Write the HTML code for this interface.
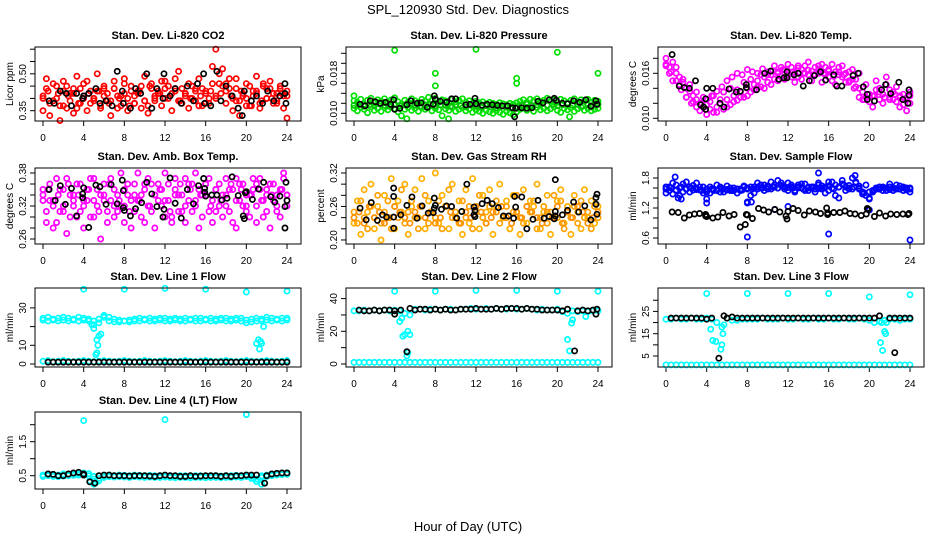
<!DOCTYPE html>
<html><head><meta charset="utf-8"><title>SPL_120930 Std. Dev. Diagnostics</title>
<style>
html,body{margin:0;padding:0;background:#fff;}
svg{display:block;font-family:"Liberation Sans",Arial,sans-serif;}
</style></head>
<body>
<svg id="chart" width="936" height="540" viewBox="0 0 936 540" xmlns="http://www.w3.org/2000/svg">
<rect x="0" y="0" width="936" height="540" fill="#fff"/>
<text x="468" y="14" text-anchor="middle" font-size="13">SPL_120930  Std. Dev. Diagnostics</text>
<text x="468" y="531" text-anchor="middle" font-size="13">Hour of Day (UTC)</text>
</svg>
<script>
// ---------- data ----------
const xTicks=[0,4,8,12,16,20,24];
const co2A=[0.41,0.44,0.38,0.46,0.40,0.37,0.43,0.45,0.39,0.42,0.36,0.44,0.41,0.47,0.38,0.40,0.43,0.37,0.45,0.42,0.39,0.44,0.36,0.41,0.46,0.40,0.43,0.38,0.42,0.45,0.39,0.37,0.44,0.41,0.43,0.47,0.40,0.45,0.42,0.48,0.39,0.44,0.41,0.46,0.40,0.43,0.37,0.44,0.42,0.38,0.46,0.41,0.50,0.45,0.43,0.48,0.40,0.44,0.39,0.42,0.37,0.45,0.41,0.43,0.38,0.46,0.40,0.44,0.42,0.39,0.45,0.41,0.43];
const co2B=[0.35,0.48,0.33,0.39,0.45,0.31,0.47,0.36,0.42,0.34,0.49,0.38,0.46,0.35,0.43,0.40,0.50,0.36,0.44,0.39,0.33,0.47,0.41,0.37,0.48,0.35,0.45,0.38,0.43,0.36,0.49,0.34,0.46,0.39,0.42,0.37,0.47,0.40,0.35,0.44,0.51,0.38,0.42,0.36,0.45,0.39,0.48,0.37,0.43,0.40,0.53,0.60,0.46,0.52,0.38,0.44,0.35,0.48,0.33,0.41,0.46,0.37,0.43,0.49,0.36,0.45,0.40,0.47,0.38,0.42,0.44,0.36,0.32];
const co2C=[0.40,0.43,0.39,0.42,0.37,0.41,0.44,0.38,0.40,0.42,0.39,0.43,0.41,0.38,0.44,0.40,0.42,0.37,0.41,0.43,0.39,0.45,0.40,0.42,0.44,0.41,0.43,0.39,0.42,0.40,0.44,0.41,0.38,0.43,0.40,0.42,0.46,0.41,0.39,0.43,0.40,0.37,0.42,0.39,0.44,0.40,0.38,0.42,0.41];
const co2BlkT=[0.6,1.1,1.7,2.3,2.8,3.3,3.9,4.0,4.5,5.2,5.6,6.2,6.8,7.3,7.8,7.9,8.6,9.1,9.6,10.2,10.7,11.2,11.8,11.9,12.5,13.0,13.6,14.2,14.8,15.2,15.8,15.9,16.5,17.1,17.5,18.0,18.6,19.2,19.6,19.8,20.5,21.0,21.6,22.1,22.7,23.3,23.8,23.9,23.8];
const co2BlkV=[0.39,0.38,0.43,0.42,0.37,0.42,0.40,0.41,0.42,0.44,0.38,0.39,0.37,0.51,0.43,0.38,0.36,0.44,0.42,0.50,0.36,0.44,0.40,0.50,0.41,0.44,0.38,0.45,0.39,0.46,0.50,0.38,0.37,0.51,0.39,0.45,0.41,0.36,0.33,0.43,0.39,0.41,0.38,0.43,0.39,0.41,0.42,0.38,0.46];

const prsA=[0.0125,0.0122,0.0128,0.0118,0.0126,0.0130,0.0121,0.0127,0.0124,0.0129,0.0120,0.0127,0.0131,0.0123,0.0118,0.0126,0.0122,0.0129,0.0125,0.0120,0.0128,0.0124,0.0132,0.0126,0.0130,0.0122,0.0127,0.0125,0.0121,0.0128,0.0123,0.0126,0.0129,0.0122,0.0125,0.0120,0.0124,0.0121,0.0123,0.0119,0.0122,0.0120,0.0118,0.0121,0.0119,0.0117,0.0120,0.0118,0.0121,0.0124,0.0127,0.0122,0.0128,0.0125,0.0129,0.0123,0.0126,0.0130,0.0124,0.0127,0.0122,0.0128,0.0125,0.0121,0.0126,0.0129,0.0123,0.0127,0.0124,0.0128,0.0122,0.0126,0.0124];
const prsB=[0.0110,0.0105,0.0112,0.0108,0.0101,0.0113,0.0106,0.0110,0.0104,0.0111,0.0107,0.0113,0.0109,0.0103,0.0095,0.0108,0.0112,0.0106,0.0110,0.0104,0.0111,0.0108,0.0113,0.0105,0.0110,0.0107,0.0095,0.0109,0.0106,0.0112,0.0104,0.0108,0.0111,0.0105,0.0109,0.0102,0.0107,0.0104,0.0100,0.0106,0.0103,0.0100,0.0105,0.0102,0.0098,0.0104,0.0101,0.0097,0.0103,0.0108,0.0111,0.0106,0.0110,0.0104,0.0112,0.0107,0.0110,0.0105,0.0109,0.0113,0.0106,0.0102,0.0110,0.0107,0.0111,0.0104,0.0109,0.0112,0.0106,0.0110,0.0105,0.0108,0.0110];
const prsC=[0.0116,0.0118,0.0114,0.0117,0.0115,0.0119,0.0116,0.0114,0.0118,0.0115,0.0117,0.0119,0.0116,0.0114,0.0117,0.0118,0.0115,0.0117,0.0116,0.0114,0.0117,0.0115,0.0113,0.0116,0.0114,0.0112,0.0115,0.0113,0.0111,0.0114,0.0112,0.0110,0.0113,0.0116,0.0118,0.0115,0.0117,0.0119,0.0116,0.0118,0.0115,0.0117,0.0119,0.0116,0.0118,0.0115,0.0117,0.0116,0.0118];
const prsOutT=[4,12,20,8,24,16,16,8,0,5.2,9.3,21.2];
const prsOutV=[0.0226,0.0228,0.0222,0.0180,0.0180,0.0170,0.0160,0.0155,0.0135,0.0089,0.0089,0.0093];
const prsBlkT=[0.6,1.1,1.6,2.1,2.6,3.1,3.6,3.9,4.0,4.5,5.2,5.6,6.2,6.6,7.2,7.8,7.9,8.0,8.5,9.1,9.6,10.0,11.0,11.4,11.9,12.0,12.6,13.1,13.6,14.1,14.6,15.1,15.6,15.8,15.9,16.5,17.0,17.5,18.1,18.6,19.2,19.7,19.9,20.5,21.0,21.6,22.2,22.8,23.3,23.8,23.9];
const prsBlkV=[0.0118,0.0115,0.0125,0.0123,0.0120,0.0122,0.0118,0.0127,0.0108,0.0110,0.0117,0.0125,0.0120,0.0121,0.0112,0.0118,0.0135,0.0128,0.0124,0.0122,0.0129,0.0129,0.0117,0.0118,0.0130,0.0119,0.0116,0.0118,0.0117,0.0116,0.0115,0.0115,0.0111,0.0093,0.0110,0.0111,0.0110,0.0111,0.0124,0.0121,0.0127,0.0130,0.0126,0.0120,0.0119,0.0125,0.0122,0.0127,0.0114,0.0125,0.0118];

const ltA=[0.0172,0.0168,0.0175,0.0160,0.0155,0.0148,0.0140,0.0136,0.0130,0.0125,0.0120,0.0115,0.0118,0.0112,0.0108,0.0115,0.0120,0.0112,0.0125,0.0118,0.0130,0.0124,0.0135,0.0128,0.0140,0.0135,0.0145,0.0150,0.0142,0.0155,0.0148,0.0158,0.0152,0.0162,0.0156,0.0165,0.0158,0.0168,0.0160,0.0155,0.0165,0.0170,0.0158,0.0163,0.0168,0.0160,0.0172,0.0158,0.0165,0.0150,0.0162,0.0168,0.0155,0.0160,0.0148,0.0165,0.0152,0.0140,0.0135,0.0128,0.0122,0.0130,0.0138,0.0125,0.0132,0.0145,0.0128,0.0135,0.0122,0.0130,0.0118,0.0125,0.0120];
const ltB=[0.0180,0.0160,0.0150,0.0168,0.0145,0.0152,0.0128,0.0145,0.0122,0.0135,0.0110,0.0128,0.0105,0.0122,0.0130,0.0108,0.0125,0.0135,0.0115,0.0140,0.0122,0.0138,0.0128,0.0148,0.0130,0.0152,0.0138,0.0142,0.0158,0.0140,0.0162,0.0145,0.0170,0.0150,0.0168,0.0152,0.0172,0.0155,0.0148,0.0170,0.0152,0.0160,0.0175,0.0150,0.0158,0.0170,0.0148,0.0168,0.0155,0.0172,0.0145,0.0158,0.0170,0.0148,0.0162,0.0152,0.0142,0.0160,0.0125,0.0145,0.0132,0.0115,0.0150,0.0140,0.0120,0.0155,0.0138,0.0125,0.0142,0.0115,0.0132,0.0110,0.0135];
const ltC=[0.0170,0.0162,0.0150,0.0138,0.0128,0.0120,0.0115,0.0120,0.0125,0.0130,0.0136,0.0142,0.0150,0.0155,0.0160,0.0158,0.0165,0.0162,0.0160,0.0166,0.0158,0.0163,0.0160,0.0165,0.0158,0.0162,0.0167,0.0160,0.0164,0.0158,0.0165,0.0160,0.0163,0.0156,0.0162,0.0158,0.0150,0.0140,0.0128,0.0125,0.0132,0.0130,0.0135,0.0128,0.0125,0.0132,0.0128,0.0126,0.0130];
const ltBlkT=[0.6,1.3,1.8,2.3,2.9,3.4,3.7,3.9,3.9,4.0,4.6,5.3,5.7,6.2,6.9,7.3,7.9,7.9,8.9,9.7,10.3,11.1,11.6,11.9,11.9,12.6,13.0,13.5,14.1,14.6,15.2,15.7,16.5,16.8,17.3,18.4,18.9,19.4,19.8,19.8,20.5,21.2,21.6,22.1,22.9,23.3,23.8,23.9,23.9];
const ltBlkV=[0.0185,0.0143,0.0141,0.0140,0.0150,0.0118,0.0115,0.0112,0.0126,0.0140,0.0140,0.0120,0.0115,0.0139,0.0135,0.0136,0.0145,0.0141,0.0138,0.0160,0.0163,0.0152,0.0154,0.0162,0.0154,0.0158,0.0160,0.0143,0.0150,0.0157,0.0162,0.0151,0.0158,0.0143,0.0143,0.0157,0.0160,0.0142,0.0132,0.0125,0.0123,0.0138,0.0145,0.0133,0.0148,0.0125,0.0120,0.0131,0.0138];

const ambA=[0.34,0.31,0.36,0.33,0.29,0.35,0.32,0.37,0.30,0.34,0.36,0.31,0.33,0.35,0.30,0.37,0.32,0.34,0.36,0.29,0.33,0.35,0.31,0.38,0.32,0.34,0.28,0.36,0.33,0.30,0.35,0.37,0.31,0.34,0.36,0.32,0.38,0.33,0.30,0.35,0.34,0.31,0.37,0.33,0.36,0.32,0.35,0.30,0.34,0.37,0.33,0.31,0.36,0.34,0.32,0.35,0.29,0.37,0.33,0.36,0.31,0.34,0.35,0.32,0.37,0.30,0.34,0.36,0.33,0.31,0.35,0.37,0.34];
const ambB=[0.35,0.29,0.33,0.28,0.37,0.31,0.35,0.27,0.34,0.32,0.30,0.36,0.28,0.33,0.37,0.30,0.35,0.26,0.33,0.31,0.37,0.30,0.34,0.32,0.29,0.36,0.33,0.31,0.38,0.34,0.29,0.32,0.36,0.28,0.33,0.35,0.30,0.36,0.29,0.37,0.31,0.34,0.29,0.36,0.31,0.38,0.28,0.34,0.36,0.31,0.29,0.35,0.32,0.30,0.37,0.31,0.35,0.28,0.36,0.32,0.34,0.30,0.37,0.29,0.35,0.33,0.31,0.28,0.36,0.34,0.30,0.38,0.32];
const ambC=[0.33,0.35,0.32,0.34,0.31,0.36,0.33,0.34,0.32,0.35,0.33,0.31,0.34,0.36,0.32,0.33,0.35,0.31,0.34,0.33,0.36,0.32,0.34,0.35,0.33,0.31,0.34,0.36,0.32,0.35,0.33,0.34,0.36,0.32,0.35,0.33,0.34,0.36,0.33,0.35,0.32,0.34,0.36,0.33,0.35,0.34,0.32,0.35,0.34];
const ambBlkT=[0.6,1.2,1.7,2.2,2.8,3.3,3.9,3.9,4.0,4.5,5.2,5.6,6.2,6.7,7.3,7.8,7.9,7.9,8.0,8.6,9.1,9.7,10.2,10.7,11.2,11.8,11.9,12.5,13.0,13.6,14.2,14.8,15.3,15.8,15.9,15.9,16.0,16.6,17.1,17.6,18.1,18.6,19.2,19.7,19.8,19.9,20.0,20.6,21.2,21.7,22.4,22.8,23.3,23.8,23.8,23.9,24.0];
const ambBlkV=[0.350,0.330,0.357,0.323,0.352,0.302,0.335,0.342,0.353,0.281,0.358,0.355,0.323,0.359,0.324,0.367,0.348,0.317,0.312,0.302,0.315,0.326,0.363,0.342,0.319,0.300,0.314,0.371,0.325,0.298,0.350,0.324,0.357,0.370,0.352,0.345,0.338,0.340,0.340,0.331,0.334,0.373,0.339,0.302,0.297,0.344,0.346,0.332,0.351,0.363,0.337,0.327,0.338,0.280,0.319,0.363,0.330];

const rhA=[0.25,0.23,0.27,0.24,0.22,0.26,0.24,0.28,0.23,0.25,0.27,0.22,0.26,0.24,0.29,0.23,0.25,0.27,0.24,0.22,0.26,0.28,0.23,0.25,0.24,0.27,0.22,0.26,0.29,0.24,0.25,0.23,0.27,0.24,0.26,0.22,0.25,0.28,0.24,0.23,0.26,0.25,0.27,0.23,0.24,0.26,0.22,0.25,0.28,0.24,0.23,0.26,0.25,0.27,0.22,0.24,0.26,0.23,0.25,0.28,0.24,0.27,0.22,0.25,0.24,0.26,0.23,0.27,0.24,0.25,0.22,0.26,0.24];
const rhB=[0.23,0.27,0.21,0.29,0.25,0.30,0.22,0.26,0.20,0.28,0.24,0.31,0.22,0.27,0.25,0.30,0.21,0.26,0.29,0.24,0.31,0.22,0.27,0.25,0.32,0.23,0.28,0.26,0.22,0.30,0.24,0.27,0.21,0.29,0.23,0.31,0.26,0.22,0.28,0.25,0.29,0.21,0.26,0.30,0.24,0.27,0.22,0.28,0.25,0.21,0.29,0.23,0.27,0.26,0.30,0.22,0.25,0.28,0.21,0.24,0.27,0.29,0.23,0.26,0.21,0.28,0.25,0.22,0.29,0.24,0.27,0.23,0.26];
const rhC=[0.24,0.25,0.23,0.26,0.24,0.25,0.23,0.24,0.26,0.25,0.24,0.23,0.25,0.26,0.24,0.25,0.23,0.24,0.26,0.25,0.24,0.23,0.25,0.24,0.26,0.25,0.23,0.24,0.25,0.26,0.24,0.23,0.25,0.24,0.26,0.25,0.24,0.23,0.25,0.24,0.26,0.23,0.25,0.24,0.26,0.25,0.23,0.24,0.25];
const rhBlkT=[0.6,1.2,1.7,2.3,2.8,3.2,3.9,3.9,3.9,3.9,4.6,5.2,5.7,6.2,6.7,7.3,7.8,7.9,7.9,8.0,8.6,9.1,9.6,10.1,10.6,11.1,11.8,11.8,11.9,11.9,12.6,13.1,13.6,14.2,14.7,15.2,15.7,15.8,15.9,16.5,17.0,17.6,18.1,18.7,19.2,19.7,19.8,19.8,19.8,20.5,21.0,21.6,22.1,22.7,23.3,23.8,23.8,23.9,23.9];
const rhBlkV=[0.257,0.236,0.267,0.235,0.245,0.241,0.293,0.278,0.241,0.221,0.245,0.262,0.277,0.239,0.261,0.248,0.249,0.257,0.275,0.262,0.255,0.261,0.260,0.239,0.251,0.300,0.259,0.245,0.242,0.253,0.265,0.271,0.265,0.258,0.243,0.243,0.239,0.278,0.259,0.277,0.220,0.237,0.271,0.239,0.242,0.238,0.243,0.251,0.308,0.245,0.253,0.268,0.250,0.261,0.236,0.264,0.276,0.282,0.246];

const sfA=[1.50,1.62,1.70,1.55,1.45,1.68,1.58,1.52,1.65,1.60,1.56,1.62,1.30,1.50,1.58,1.55,1.62,1.52,1.56,1.60,1.55,1.50,1.58,1.62,1.30,1.45,1.62,1.70,1.60,1.66,1.58,1.72,1.62,1.75,1.65,1.58,1.70,1.62,1.55,1.66,1.60,1.68,1.55,1.62,1.58,1.70,1.64,1.50,1.72,1.60,1.66,1.40,1.75,1.62,1.58,1.80,1.70,1.64,1.52,1.45,1.40,1.55,1.60,1.58,1.62,1.55,1.68,1.60,1.58,1.64,1.55,1.60,1.52];
const sfB=[1.62,1.55,1.48,1.66,1.60,1.52,1.72,1.62,1.56,1.70,1.62,1.50,1.58,1.62,1.55,1.66,1.52,1.58,1.64,1.55,1.60,1.58,1.55,1.64,1.58,1.62,1.50,1.58,1.66,1.55,1.62,1.58,1.66,1.60,1.70,1.62,1.55,1.66,1.52,1.60,1.68,1.55,1.62,1.60,1.52,1.66,1.58,1.62,1.55,1.72,1.45,1.62,1.68,1.55,1.65,1.58,1.72,1.60,1.48,1.66,1.38,1.52,1.58,1.62,1.55,1.60,1.62,1.55,1.66,1.58,1.62,1.56,1.60];
const sfC=[1.58,1.60,1.56,1.62,1.58,1.60,1.57,1.55,1.52,1.58,1.56,1.59,1.57,1.55,1.58,1.56,1.60,1.58,1.62,1.60,1.64,1.62,1.60,1.63,1.61,1.60,1.62,1.58,1.60,1.62,1.59,1.60,1.64,1.58,1.62,1.66,1.60,1.62,1.58,1.50,1.52,1.56,1.58,1.60,1.57,1.59,1.58,1.60,1.58];
const sfOutT=[4,8,8.4,8,16,24,12,10.7,15,18.6,20,1.2,1.5,0.9];
const sfOutV=[1.38,1.32,1.32,0.62,0.68,0.56,1.23,1.17,1.90,1.85,1.16,1.40,1.38,1.82];
const sfBlkT=[0.6,1.2,1.8,2.3,2.8,3.3,3.9,3.9,4.0,4.6,5.1,5.6,6.2,6.7,7.3,7.8,7.9,8.0,8.5,9.1,9.6,10.1,10.7,11.2,11.8,11.9,12.0,12.5,13.0,13.6,14.1,14.7,15.2,15.8,15.9,15.9,16.5,17.1,17.6,18.1,18.6,19.2,19.7,19.8,19.9,20.5,21.0,21.6,22.1,22.7,23.3,23.8,23.9];
const sfBlkV=[1.12,1.11,1.00,1.06,1.08,1.09,1.07,1.04,1.03,1.00,1.02,1.11,1.04,1.07,0.82,0.87,1.07,1.06,0.99,1.19,1.16,1.12,1.17,1.12,1.04,0.98,1.13,1.19,1.15,1.06,1.14,1.12,1.09,1.20,1.10,1.07,1.11,1.11,1.14,1.09,1.08,1.05,1.08,1.19,1.17,1.03,1.10,1.04,1.08,1.07,1.08,1.07,1.09];

const l1Hi=[24.5,25,24,24.5,25,24.5,24,25,24.5,24,23,22,26,25,24,23.5,23,23.5,24,24.5,24,24.5,24,24.5,24.5,24,24.5,24,24.5,24,24.5,24.5,24,24.5,24,24.5,24.5,24,24.5,24.5,23.5,24,24.5,24,25,24.5,24,24.5,24.5];
const l1Hi2=[23.5,23,23.5,23,23.5,23,23.5,23,23.5,23,21,24,25,23,22.5,22.5,23,22.5,23,23,23.5,23,23,23.5,23,23,23.5,23,23,23.5,23,23,23.5,23,23,23.5,23,23,23.5,23,22,22.5,23,23,23.5,23,23.5,23,23.5];
const l1Lo=[1.5,1.8,1.2,1.5,1.8,1.5,1.2,1.5,1.8,1.5,1.2,1.5,1.8,1.5,1.2,1.5,1.8,1.5,1.2,1.5,1.8,1.5,1.2,1.5,1.8,1.5,1.2,1.5,1.8,1.5,1.2,1.5,1.8,1.5,1.2,1.5,1.8,1.5,1.2,1.5,1.8,1.5,1.2,1.5,1.8,1.5,1.2,1.5,1.8];
const l1ExT=[4,8,12,16,20,24,4.8,5.0,5.3,5.4,5.5,5.7,5.2,5.3,21.0,21.2,21.3,21.5,21.4,21.7];
const l1ExV=[40,40,40.5,40,38.5,39,21,19,13,10,15,16,5,6,11,13,8,11,12,20];
const l1BlkV=[1,1,1,1,1,1,1,1,1,1,1,1,1,1,1,1,1,1,1,1,1,1,1,1,1,1,1,1,1,1,1,1,1,1,1,1,1,1,1,1,1,1,1,1,1,1,1,1];

const l2Hi=[32.5,32.5,33,32.5,33,32.5,33,32.5,33,32.5,31,30,33.5,33.5,33,33.5,33.5,33,33.5,33.5,33,33.5,33.5,34,33.5,33.5,34,33.5,34,33.5,33.5,34,33.5,33.5,34,33.5,33,33.5,33,33,33.5,32,31,32.5,32,32.5,32,32.5,32.5];
const l2Lo=[1,1,1,1,1,1,1,1,1,1,1,1,1,1,1,1,1,1,1,1,1,1,1,1,1,1,1,1,1,1,1,1,1,1,1,1,1,1,1,1,1,1,1,1,1,1,1,1,1];
const l2ExT=[4,8,12,16,20,24,4.5,4.7,4.8,5.0,5.3,5.2,5.5,5.3,21.0,21.2,21.4,21.5,22.8];
const l2ExV=[44.5,44.5,45,45,44.5,44.5,26,28,17,18,20,5,18,7,15,8,25,27,29];
const l2BlkT=[0.5,1,1.5,2,2.5,3,3.5,4,4,4.6,5.2,5.5,6,6.5,7,7.5,8,8.5,9,9.5,10,10.5,11,11.5,12,12.5,13,13.5,14,14.5,15,15.5,16,16.5,17,17.5,18,18.5,19,19.5,20,20.5,21,21.7,22,22.5,23,23.5,23.8,23.9];
const l2BlkV=[33,32.5,32.5,33,32.5,33,33,32.5,30.5,33,7.5,34,33,33.5,33.5,33,33.5,33,33.5,33,33,33.5,33.5,33.5,34,33.5,33.5,33.5,34,33.5,34,34,34,33.5,34,33.5,33.5,33,33,33,33,32.5,33.5,8,32.5,33,32.5,33,30.5,33.5];

const l3Hi=[21.5,21.5,22,21.5,21.5,22,21.5,21.5,22,21.5,20,18,22,21,21,21.5,21.5,21.5,21.5,22,21.5,21.5,21.5,22,21.5,21.5,22,21.5,21.5,22,21.5,21.5,22,21.5,21.5,22,21.5,21.5,22,21.5,21,20,20.5,21,21.5,21.5,21,21.5,21.5];
const l3Lo=[1,1,1,1,1,1,1,1,1,1,1,1,1,1,1,1,1,1,1,1,1,1,1,1,1,1,1,1,1,1,1,1,1,1,1,1,1,1,1,1,1,1,1,1,1,1,1,1,1];
const l3ExT=[4,8,12,16,20,24,4.4,4.6,4.9,5.4,5.5,5.6,5.7,21.1,21.3,21.5,21.6,21.7,21.2];
const l3ExV=[33,33,33,33,31.5,32.5,17,12,11.5,8,10,15,19,11,7.5,16,15,20,20];
const l3BlkT=[0.5,1,1.5,2,2.5,3,3.5,4,4.5,5.2,5.7,6,6.5,7,7.5,8,8.5,9,9.5,10,10.5,11,11.5,12,12.5,13,13.5,14,14.5,15,15.5,16,16.5,17,17.5,18,18.5,19,19.5,20,20.5,21,22.5,22,22.5,23,23.5,24];
const l3BlkV=[22,22,22,22,22,22,22,21.5,22,4,23,22,22.5,22,22,22,22,22,22,22,22,22,22,22,22,22,22,22,22,22,22,22,22,22,22,22,22,22,22,22,22,23,6.5,22,22,22,22,22];

const l4Hi=[0.52,0.55,0.53,0.52,0.55,0.54,0.56,0.57,0.58,0.56,0.48,0.42,0.50,0.52,0.50,0.52,0.51,0.50,0.52,0.51,0.50,0.51,0.50,0.50,0.51,0.50,0.49,0.50,0.50,0.49,0.50,0.50,0.49,0.50,0.50,0.49,0.50,0.50,0.51,0.50,0.52,0.48,0.40,0.50,0.52,0.55,0.56,0.57,0.58];
const l4Lo=[0.48,0.50,0.48,0.47,0.49,0.50,0.51,0.52,0.52,0.50,0.40,0.35,0.45,0.47,0.46,0.47,0.46,0.45,0.47,0.46,0.45,0.46,0.45,0.45,0.46,0.45,0.44,0.45,0.45,0.44,0.45,0.45,0.44,0.45,0.45,0.44,0.45,0.45,0.46,0.45,0.47,0.42,0.33,0.45,0.48,0.50,0.52,0.53,0.54];
const l4ExT=[4,12,20,4.6,5.0,5.2,21.1,21.5,21.8];
const l4ExV=[2.12,2.15,2.30,0.35,0.25,0.30,0.40,0.25,0.28];
const l4BlkT=[0.5,1,1.5,2,2.5,3,3.5,4,4,4.6,5.1,5.5,6,6.5,7,7.5,8,8.5,9,9.5,10,10.5,11,11.5,12,12.5,13,13.5,14,14.5,15,15.5,16,16.5,17,17.5,18,18.5,19,19.5,20,20.5,21,21.8,22,22.5,23,23.5,24];
const l4BlkV=[0.55,0.54,0.50,0.50,0.55,0.58,0.60,0.55,0.52,0.32,0.28,0.50,0.52,0.52,0.50,0.50,0.50,0.49,0.50,0.50,0.50,0.49,0.48,0.50,0.52,0.50,0.50,0.48,0.48,0.50,0.48,0.49,0.50,0.50,0.50,0.48,0.50,0.48,0.50,0.50,0.52,0.52,0.52,0.28,0.50,0.55,0.57,0.58,0.58];

const yTickVals=[[0.35,0.40,0.45,0.50,0.55,0.60],[0.010,0.012,0.014,0.016,0.018,0.020,0.022],[0.010,0.012,0.014,0.016,0.018],
 [0.26,0.28,0.30,0.32,0.34,0.36,0.38],[0.20,0.22,0.24,0.26,0.28,0.30,0.32],[0.6,0.8,1.0,1.2,1.4,1.6,1.8],
 [0,10,20,30],[0,10,20,30,40],[5,10,15,20,25,30],[0.5,1.0,1.5,2.0]];
const yTickLabels=[["0.35","","","0.50","",""],["0.010","","","","0.018","",""],["0.010","","","0.016",""],
 ["0.26","","","0.32","","","0.38"],["0.20","","","0.26","","","0.32"],["0.6","","","1.2","","","1.8"],
 ["0","10","","30"],["0","","20","","40"],["5","","15","","25",""],["0.5","","1.5",""]];
const titles=["Stan. Dev. Li-820 CO2","Stan. Dev. Li-820 Pressure","Stan. Dev. Li-820 Temp.","Stan. Dev. Amb. Box Temp.","Stan. Dev. Gas Stream RH","Stan. Dev. Sample Flow","Stan. Dev. Line 1 Flow","Stan. Dev. Line 2 Flow","Stan. Dev. Line 3 Flow","Stan. Dev. Line 4 (LT) Flow"];
const yTitles=["Licor ppm","kPa","degrees C","degrees C","percent","ml/min","ml/min","ml/min","ml/min","ml/min"];

// ---------- layout ----------
const colLeft=[35,346,658], rowTop=[47,168,288,412], rowH=[74,76,79,77];
const BOXW=266;
const yMap=[{v:0.35,p:110.7,k:246},{v:0.018,p:73.3,k:5000},{v:0.016,p:73.3,k:7500},{v:0.38,p:173,k:550},{v:0.32,p:173,k:558},{v:1.8,p:178,k:50},{v:0,p:364,k:1.87},{v:0,p:364,k:1.635},{v:5,p:356,k:2.23},{v:0.5,p:475.7,k:34}];

const svg=document.getElementById('chart');
const NS='http://www.w3.org/2000/svg';
const R=2.6, SW=1.7;
function mk(tag,attrs,parent){const e=document.createElementNS(NS,tag);for(const k in attrs)e.setAttribute(k,attrs[k]);(parent||svg).appendChild(e);return e;}
function box(i){const c=i%3,r=Math.floor(i/3);return {x:colLeft[c],y:rowTop[r],w:BOXW,h:rowH[r]};}
function xs(i,t){const b=box(i);return b.x+8+t*(244/24);}
function ys(i,v){const m=yMap[i];return m.p-(v-m.v)*m.k;}

function seriesIdx(i,g,vals,color,name){
  const n=vals.length;
  vals.forEach((v,j)=>{const t=j*24/(n-1);
    const c=mk('circle',{cx:xs(i,t),cy:ys(i,v),r:R,fill:'none',stroke:color,'stroke-width':SW},g);
    
    
  });
}
function seriesTV(i,g,ts,vals,color,name){
  vals.forEach((v,j)=>{
    const c=mk('circle',{cx:xs(i,ts[j]),cy:ys(i,v),r:R,fill:'none',stroke:color,'stroke-width':SW},g);
    
    
  });
}
function blkEven(i,g,vals){
  vals.forEach((v,j)=>{
    const c=mk('circle',{cx:xs(i,0.5+j*0.5),cy:ys(i,v),r:R,fill:'none',stroke:'#000','stroke-width':SW},g);
    
    
  });
}

for(let i=0;i<10;i++){
  const b=box(i);
  const g=mk('g',{});
  
  
  const t=mk('text',{x:b.x+b.w/2,y:b.y-8,'text-anchor':'middle','font-size':11,'font-weight':'bold'},g);
  t.textContent=titles[i];
  
  
  const xa=mk('g',{},g);
  
  
  mk('line',{x1:xs(i,0),x2:xs(i,24),y1:b.y+b.h,y2:b.y+b.h,stroke:'#000'},xa);
  xTicks.forEach(v=>{
    mk('line',{x1:xs(i,v),x2:xs(i,v),y1:b.y+b.h,y2:b.y+b.h+5,stroke:'#000'},xa);
    const tl=mk('text',{x:xs(i,v),y:b.y+b.h+20,'text-anchor':'middle','font-size':10},xa);
    tl.textContent=v;
    
    
  });
  const ya=mk('g',{},g);
  
  
  yTickVals[i].forEach((v,j)=>{
    const y=ys(i,v);
    if(y<b.y-0.5||y>b.y+b.h+0.5)return;
    mk('line',{x1:b.x-5,x2:b.x,y1:y,y2:y,stroke:'#000'},ya);
    const lab=yTickLabels[i][j];
    if(lab){
      const tl=mk('text',{x:0,y:0,'text-anchor':'middle','font-size':10,transform:`translate(${b.x-9},${y}) rotate(-90)`},ya);
      tl.textContent=lab;
      
      
    }
  });
  const yt=mk('text',{x:0,y:0,'text-anchor':'middle','font-size':10,transform:`translate(${b.x-22},${b.y+b.h/2}) rotate(-90)`},ya);
  yt.textContent=yTitles[i];
  
  
  const d=mk('g',{},g);
  
  
  if(i===0){seriesIdx(i,d,co2A,'#ff0000','co2');seriesIdx(i,d,co2B,'#ff0000','co2');seriesIdx(i,d,co2C,'#ff0000','co2');seriesTV(i,d,co2BlkT,co2BlkV,'#000','co2-hourly');}
  if(i===1){seriesIdx(i,d,prsA,'#00e000','pressure');seriesIdx(i,d,prsB,'#00e000','pressure');seriesIdx(i,d,prsC,'#00c000','pressure');seriesTV(i,d,prsOutT,prsOutV,'#00e000','pressure');seriesTV(i,d,prsBlkT,prsBlkV,'#000','pressure-hourly');}
  if(i===2){seriesIdx(i,d,ltA,'#ff00ff','li-temp');seriesIdx(i,d,ltB,'#ff00ff','li-temp');seriesIdx(i,d,ltC,'#ff00ff','li-temp');seriesTV(i,d,ltBlkT,ltBlkV,'#000','li-temp-hourly');}
  if(i===3){seriesIdx(i,d,ambA,'#ff00ff','amb-temp');seriesIdx(i,d,ambB,'#ff00ff','amb-temp');seriesIdx(i,d,ambC,'#ff00ff','amb-temp');seriesTV(i,d,ambBlkT,ambBlkV,'#000','amb-temp-hourly');}
  if(i===4){seriesIdx(i,d,rhA,'#ffa000','rh');seriesIdx(i,d,rhB,'#ffb000','rh');seriesIdx(i,d,rhC,'#ff9000','rh');seriesTV(i,d,rhBlkT,rhBlkV,'#000','rh-hourly');}
  if(i===5){seriesIdx(i,d,sfA,'#0000ff','sample-flow');seriesIdx(i,d,sfB,'#0000ff','sample-flow');seriesIdx(i,d,sfC,'#0000ff','sample-flow');seriesTV(i,d,sfOutT,sfOutV,'#0000ff','sample-flow');seriesTV(i,d,sfBlkT,sfBlkV,'#000','sample-flow-hourly');}
  if(i===6){seriesIdx(i,d,l1Hi,'#00ffff','line1');seriesIdx(i,d,l1Hi2,'#00ffff','line1');seriesIdx(i,d,l1Lo,'#00ffff','line1');seriesTV(i,d,l1ExT,l1ExV,'#00ffff','line1');blkEven(i,d,l1BlkV);}
  if(i===7){seriesIdx(i,d,l2Hi,'#00ffff','line2');seriesIdx(i,d,l2Lo,'#00ffff','line2');seriesTV(i,d,l2ExT,l2ExV,'#00ffff','line2');seriesTV(i,d,l2BlkT,l2BlkV,'#000','line2-hourly');}
  if(i===8){seriesIdx(i,d,l3Hi,'#00ffff','line3');seriesIdx(i,d,l3Lo,'#00ffff','line3');seriesTV(i,d,l3ExT,l3ExV,'#00ffff','line3');seriesTV(i,d,l3BlkT,l3BlkV,'#000','line3-hourly');}
  if(i===9){seriesIdx(i,d,l4Hi,'#00ffff','line4');seriesIdx(i,d,l4Lo,'#00ffff','line4');seriesTV(i,d,l4ExT,l4ExV,'#00ffff','line4');seriesTV(i,d,l4BlkT,l4BlkV,'#000','line4-hourly');}
  const fr=mk('rect',{x:b.x,y:b.y,width:b.w,height:b.h,fill:'none',stroke:'#000','stroke-width':1},g);
  
  
}
</script>
</body></html>
